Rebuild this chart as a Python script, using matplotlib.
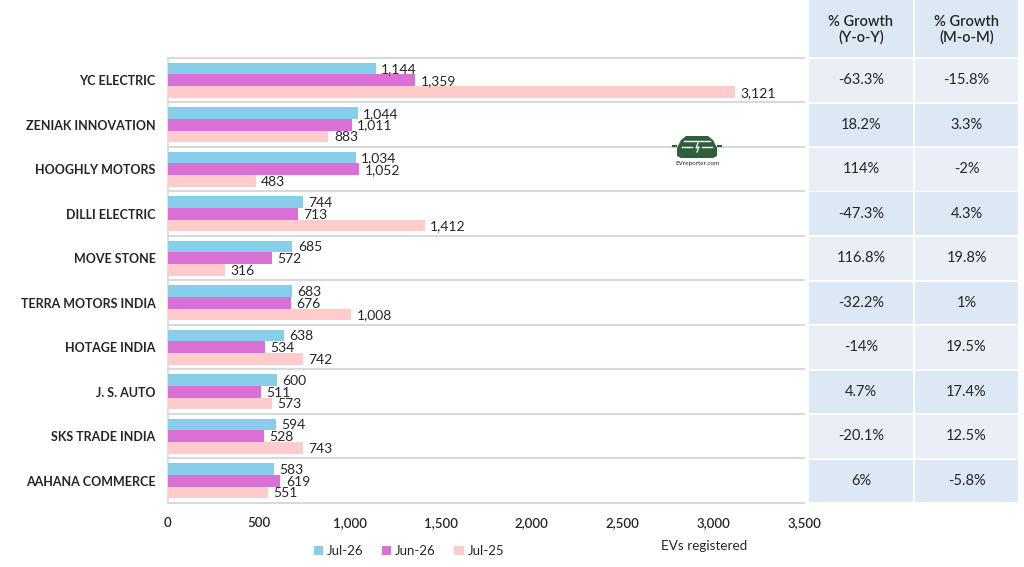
import matplotlib
matplotlib.use("Agg")
import matplotlib.pyplot as plt
from matplotlib.patches import Rectangle, Polygon
import numpy as np

plt.rcParams['font.family'] = ['Lato', 'DejaVu Sans']

categories = ["YC ELECTRIC", "ZENIAK INNOVATION", "HOOGHLY MOTORS", "DILLI ELECTRIC",
              "MOVE STONE", "TERRA MOTORS INDIA", "HOTAGE INDIA", "J. S. AUTO",
              "SKS TRADE INDIA", "AAHANA COMMERCE"]
jul26 = [1144, 1044, 1034, 744, 685, 683, 638, 600, 594, 583]
jun26 = [1359, 1011, 1052, 713, 572, 676, 534, 511, 528, 619]
jul25 = [3121, 883, 483, 1412, 316, 1008, 742, 573, 743, 551]
yoy = ["-63.3%", "18.2%", "114%", "-47.3%", "116.8%", "-32.2%", "-14%", "4.7%", "-20.1%", "6%"]
mom = ["-15.8%", "3.3%", "-2%", "4.3%", "19.8%", "1%", "19.5%", "17.4%", "12.5%", "-5.8%"]
series_names = ["Jul-26", "Jun-26", "Jul-25"]
table_headers = ["% Growth\n(Y-o-Y)", "% Growth\n(M-o-M)"]
xticks = [0, 500, 1000, 1500, 2000, 2500, 3000, 3500]

colors = ["#87CEEB", "#DA70D6", "#FFCCCB"]
txt = "#262626"
grid = "#D9D9D9"

W, H = 1024, 567
fig = plt.figure(figsize=(W / 100, H / 100), dpi=100)
fig.patch.set_facecolor("white")

def fx(px):
    return px / W

def fy(py):
    return 1 - py / H

ax_left, ax_right, ax_top, ax_bot = 168, 804, 58, 503
ax = fig.add_axes([fx(ax_left), fy(ax_bot), fx(ax_right) - fx(ax_left), fy(ax_top) - fy(ax_bot)])

n = len(categories)
y = np.arange(n)
bh = 0.265
series = [jul26, jun26, jul25]
for i, (vals, c, name) in enumerate(zip(series, colors, series_names)):
    pos = y + (i - 1) * bh
    ax.barh(pos, vals, height=bh, color=c, label=name, zorder=3)
    for p, v in zip(pos, vals):
        ax.text(v + 30, p + 0.02, f"{v:,}", va="center", ha="left", fontsize=10, color=txt, zorder=4)

ax.set_xlim(0, 3500)
ax.set_ylim(n - 0.5, -0.5)
ax.set_xticks(xticks)
ax.set_xticklabels([f"{t:,}" for t in xticks], fontsize=9.5, color=txt, fontweight="semibold")
ax.set_yticks(y)
ax.set_yticklabels(categories, fontsize=9, color=txt, fontweight="bold")
ax.tick_params(axis="both", length=0)
ax.tick_params(axis="x", pad=10)
ax.tick_params(axis="y", pad=9)
for s in ["top", "right", "bottom"]:
    ax.spines[s].set_visible(False)
ax.spines["left"].set_color(grid)
ax.spines["left"].set_linewidth(1.2)
for b in np.arange(-0.5, n, 1.0):
    ax.axhline(b, color=grid, lw=1.5, zorder=1, clip_on=False)
ax.set_facecolor("white")

# Legend
leg = fig.legend(loc="center", bbox_to_anchor=(fx(409), fy(551)), ncol=3, frameon=False,
                 fontsize=9.5, handlelength=0.7, handleheight=0.7, handletextpad=0.3,
                 columnspacing=1.4)
for t in leg.get_texts():
    t.set_color(txt)
fig.text(fx(704), fy(546), "EVs registered", ha="center", va="center", fontsize=9.7, color=txt)

# Table
col_x = [808, 914, 1019]
row_h = (ax_bot - ax_top) / n
light = "#E9EEF7"
dark = "#DDE8F5"
for j in range(2):
    x0, x1 = col_x[j] + 1, col_x[j + 1] - 1
    fig.patches.append(Rectangle((fx(x0), fy(ax_top - 1)), fx(x1) - fx(x0), fy(0) - fy(ax_top - 1),
                                 transform=fig.transFigure, facecolor=dark, edgecolor="none"))
    fig.text(fx((x0 + x1) / 2), fy(30), table_headers[j], ha="center", va="center",
             fontsize=10.5, color=txt, fontweight="semibold", linespacing=1.1)
    vals = yoy if j == 0 else mom
    for r in range(n):
        top = ax_top + r * row_h + 1
        bot = ax_top + (r + 1) * row_h - 1
        fc = light if r % 2 == 0 else dark
        fig.patches.append(Rectangle((fx(x0), fy(bot)), fx(x1) - fx(x0), fy(top) - fy(bot),
                                     transform=fig.transFigure, facecolor=fc, edgecolor="none"))
        fig.text(fx((x0 + x1) / 2), fy((top + bot) / 2), vals[r], ha="center", va="center",
                 fontsize=10.5, color=txt)

# Logo (car icon)
logo_c = "#2E5E3A"
car = [(677, 148), (681, 140), (686, 136), (708, 136), (713, 140), (717, 148),
       (717, 156), (713, 158), (681, 158), (677, 156)]
fig.patches.append(Polygon([(fx(a), fy(b)) for a, b in car], closed=True,
                           transform=fig.transFigure, facecolor=logo_c, edgecolor="none"))
for seg in [[(682, 147), (692, 147)], [(702, 147), (712, 147)], [(684, 141), (710, 141)]]:
    fig.add_artist(plt.Line2D([fx(seg[0][0]), fx(seg[1][0])], [fy(seg[0][1]), fy(seg[1][1])],
                              transform=fig.transFigure, color="white", lw=1.0))
fig.add_artist(plt.Line2D([fx(698), fx(696), fx(699), fx(697)], [fy(143), fy(148), fy(147), fy(152)],
                          transform=fig.transFigure, color="white", lw=0.9))
for side in [(673, 146, 676, 146), (718, 146, 721, 146)]:
    fig.add_artist(plt.Line2D([fx(side[0]), fx(side[2])], [fy(side[1]), fy(side[3])],
                              transform=fig.transFigure, color=logo_c, lw=1.5))
fig.text(fx(697), fy(164), "EVreporter.com", ha="center", va="center", fontsize=4.5, color=txt)

fig.savefig("out.png", dpi=100, facecolor="white")
